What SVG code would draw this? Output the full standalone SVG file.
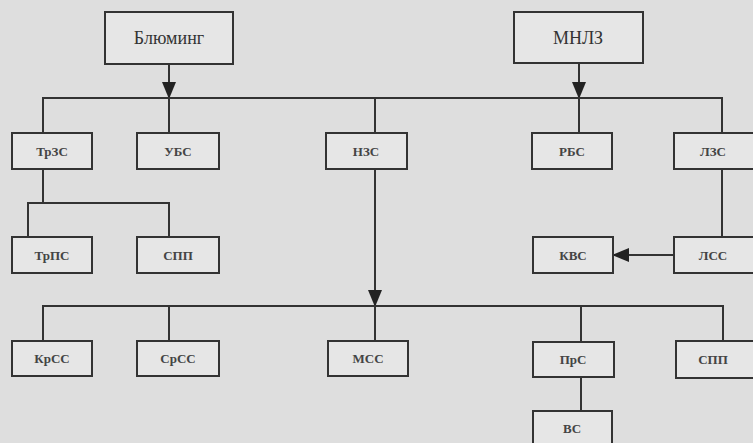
<svg xmlns="http://www.w3.org/2000/svg" width="753" height="443" viewBox="0 0 753 443">
<style>
.box{fill:#e6e6e6;stroke:#333;stroke-width:2}
.ln{fill:none;stroke:#333;stroke-width:2}
.big{font-family:"Liberation Serif",serif;font-size:18px;fill:#333;text-anchor:middle}
.sm{font-family:"Liberation Serif",serif;font-size:13px;font-weight:bold;fill:#444;text-anchor:middle}
</style>
<defs>
<marker id="ah" viewBox="0 0 17 14" refX="16" refY="7" markerWidth="17" markerHeight="14" markerUnits="userSpaceOnUse" orient="auto">
<path d="M0,0 L17,7 L0,14 z" fill="#222"/>
</marker>
</defs>
<rect width="753" height="443" fill="#dedede"/>
<g id="connectors">
<path class="ln" d="M169,64 V98" marker-end="url(#ah)"/>
<path class="ln" d="M579,63 V98" marker-end="url(#ah)"/>
<path class="ln" d="M43,133 V98 H722 V133"/>
<path class="ln" d="M169,98 V133"/>
<path class="ln" d="M375,98 V133"/>
<path class="ln" d="M579,98 V133"/>
<path class="ln" d="M43,169 V203"/>
<path class="ln" d="M28,237 V203 H169 V237"/>
<path class="ln" d="M375,169 V306" marker-end="url(#ah)"/>
<path class="ln" d="M375,306 V341"/>
<path class="ln" d="M43,341 V306 H723 V341"/>
<path class="ln" d="M169,306 V341"/>
<path class="ln" d="M581,306 V342"/>
<path class="ln" d="M581,377 V411"/>
<path class="ln" d="M722,169 V237"/>
<path class="ln" d="M674,255 H613" marker-end="url(#ah)"/>
</g>
<g id="n-bluming"><rect class="box" x="105" y="12" width="128" height="52"/><text class="big" x="169" y="44">Блюминг</text></g>
<g id="n-mnlz"><rect class="box" x="514" y="12" width="129" height="51"/><text class="big" x="578" y="44">МНЛЗ</text></g>
<g id="n-trzs"><rect class="box" x="12" y="133" width="80" height="36"/><text class="sm" x="52" y="156">ТрЗС</text></g>
<g id="n-ubs"><rect class="box" x="137" y="133" width="82" height="36"/><text class="sm" x="178" y="156">УБС</text></g>
<g id="n-nzs"><rect class="box" x="326" y="133" width="81" height="36"/><text class="sm" x="366" y="156">НЗС</text></g>
<g id="n-rbs"><rect class="box" x="532" y="133" width="80" height="36"/><text class="sm" x="572" y="156">РБС</text></g>
<g id="n-lzs"><rect class="box" x="674" y="133" width="81" height="36"/><text class="sm" x="713" y="156">ЛЗС</text></g>
<g id="n-trps"><rect class="box" x="12" y="237" width="80" height="36"/><text class="sm" x="52" y="260">ТрПС</text></g>
<g id="n-spp1"><rect class="box" x="137" y="237" width="82" height="36"/><text class="sm" x="178" y="260">СПП</text></g>
<g id="n-kvs"><rect class="box" x="533" y="237" width="80" height="36"/><text class="sm" x="573" y="260">КВС</text></g>
<g id="n-lss"><rect class="box" x="674" y="237" width="81" height="36"/><text class="sm" x="713" y="260">ЛСС</text></g>
<g id="n-krss"><rect class="box" x="12" y="341" width="80" height="35"/><text class="sm" x="52" y="363">КрСС</text></g>
<g id="n-srss"><rect class="box" x="137" y="341" width="82" height="35"/><text class="sm" x="178" y="363">СрСС</text></g>
<g id="n-mss"><rect class="box" x="328" y="341" width="80" height="35"/><text class="sm" x="368" y="363">МСС</text></g>
<g id="n-prs"><rect class="box" x="533" y="342" width="81" height="35"/><text class="sm" x="573" y="364">ПрС</text></g>
<g id="n-spp2"><rect class="box" x="676" y="341" width="79" height="37"/><text class="sm" x="713" y="364">СПП</text></g>
<g id="n-vs"><rect class="box" x="533" y="411" width="79" height="40"/><text class="sm" x="572" y="433">ВС</text></g>
</svg>
